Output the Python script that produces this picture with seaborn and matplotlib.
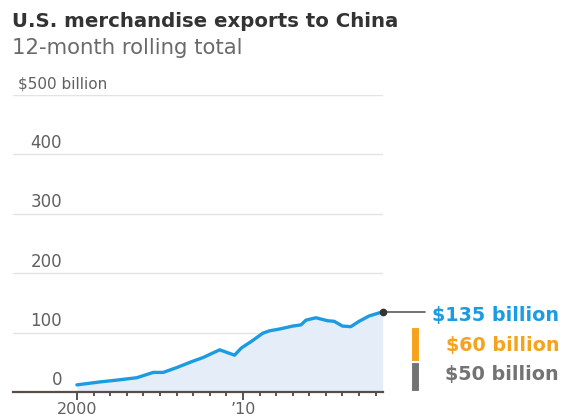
import matplotlib
matplotlib.use("Agg")
import matplotlib.pyplot as plt
import matplotlib.transforms as mtransforms
import seaborn as sns
import pandas as pd

# 12-month rolling total of U.S. merchandise exports to China, $ billion
years = [2000.0, 2001.4, 2002.4, 2003.6, 2004.6, 2005.2, 2006.0, 2007.0, 2007.6,
         2008.6, 2009.5, 2009.9, 2010.5, 2011.2, 2011.6, 2012.2, 2013.0, 2013.5,
         2013.8, 2014.4, 2015.1, 2015.5, 2016.0, 2016.5, 2017.0, 2017.6, 2018.42]
exports = [12, 17, 20, 24, 33, 33, 41, 52, 58,
           71, 62, 74, 85, 99, 103, 106, 111, 113,
           121, 125, 120, 119, 111, 110, 119, 128, 135]

latest_label = "$135 billion"
stack_values = [50, 60]
stack_labels = ["$50 billion", "$60 billion"]
stack_colors = ["#737373", "#f5a21c"]

y_ticks = [0, 100, 200, 300, 400]
x_major = {2000: "2000", 2010: "\u201910"}

BLUE = "#1b9ce2"
FILL = "#e4edf8"
GRID = "#e3e3e3"
TEXT = "#606060"

sns.set_theme(style="white")
plt.rcParams["font.family"] = ["DejaVu Sans"]

df = pd.DataFrame({"year": years, "exports": exports})

W, H = 568, 418
fig = plt.figure(figsize=(W / 100, H / 100), dpi=100)
ax = fig.add_axes([13 / W, 26 / H, 370 / W, 297 / H])

ax.set_xlim(1996.15, 2018.44)
ax.set_ylim(0, 500)

# horizontal gridlines
for v in [100, 200, 300, 400, 500]:
    ax.axhline(v, color=GRID, lw=1, zorder=0)

ax.fill_between(df["year"], 0, df["exports"], color=FILL, lw=0, zorder=1)
sns.lineplot(data=df, x="year", y="exports", ax=ax, color=BLUE, lw=2.4,
             zorder=3, legend=False)

# endpoint marker and connector
ax.plot([df["year"].iloc[-1], 2021.0], [exports[-1]] * 2, color="#666666",
        lw=1.3, zorder=3, clip_on=False)
ax.plot([df["year"].iloc[-1]], [df["exports"].iloc[-1]], "o", color="#333333",
        ms=4.5, zorder=5, clip_on=False)

# stacked bar to the right of the plot area
bottom = 0
for val, col in zip(stack_values, stack_colors):
    ax.bar(2020.42, val, bottom=bottom, width=0.54, color=col,
           edgecolor="white", lw=1.5, clip_on=False, zorder=3)
    bottom += val

# y labels sitting just above their gridlines
lab_tr = mtransforms.blended_transform_factory(ax.transAxes, ax.transData)
for v in y_ticks:
    ax.text((62 - 13) / 370, v + 11, str(v), transform=lab_tr, ha="right",
            va="baseline", fontsize=12, color=TEXT)
ax.text((18 - 13) / 370, 500 + 11, "$500 billion", transform=lab_tr,
        ha="left", va="baseline", fontsize=11, color=TEXT)

# x axis
ax.set_yticks([])
ax.set_xticks(list(x_major.keys()))
ax.set_xticklabels(list(x_major.values()), fontsize=11.5, color=TEXT)
ax.set_xticks(list(range(2001, 2019)), minor=True)
ax.tick_params(axis="x", which="major", length=5.5, width=1.4, color="#555555",
               pad=1.5, bottom=True)
ax.tick_params(axis="x", which="minor", length=3, width=1.4, color="#555555",
               bottom=True)
ax.set_xlabel("")
ax.set_ylabel("")
for s in ["top", "right", "left"]:
    ax.spines[s].set_visible(False)
ax.spines["bottom"].set_color("#5a4d46")
ax.spines["bottom"].set_linewidth(1.6)

# right-side value labels
fig.text(559 / W, 1 - 321.5 / H, latest_label, ha="right", va="baseline",
         fontsize=13.8, fontweight="bold", color=BLUE)
fig.text(559 / W, 1 - 351 / H, stack_labels[1], ha="right", va="baseline",
         fontsize=13.8, fontweight="bold", color=stack_colors[1])
fig.text(559 / W, 1 - 380 / H, stack_labels[0], ha="right", va="baseline",
         fontsize=13.8, fontweight="bold", color=stack_colors[0])

# titles
fig.text(12 / W, 1 - 26.7 / H, "U.S. merchandise exports to China", ha="left",
         va="baseline", fontsize=14.2, fontweight="bold", color="#333333")
fig.text(12 / W, 1 - 54 / H, "12-month rolling total", ha="left",
         va="baseline", fontsize=15.3, color="#6a6a6a")

fig.savefig("out.png", dpi=100)
